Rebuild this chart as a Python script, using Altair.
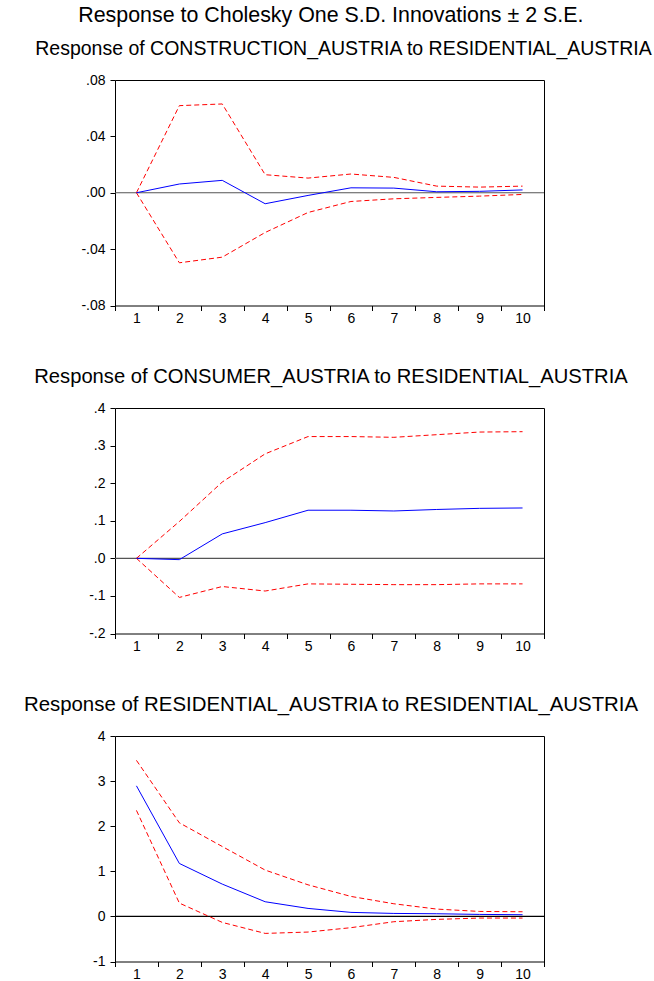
import altair as alt
import pandas as pd

steps = list(range(1, 11))

# Panel 1: Response of CONSTRUCTION_AUSTRIA to RESIDENTIAL_AUSTRIA
p1_resp = [0.0, 0.0062, 0.0088, -0.0078, -0.0019, 0.0035, 0.0033, 0.0007, 0.0010, 0.0020]
p1_upper = [0.0, 0.0618, 0.0630, 0.0128, 0.0104, 0.0133, 0.0109, 0.0047, 0.0040, 0.0047]
p1_lower = [0.0, -0.0497, -0.0457, -0.0282, -0.0140, -0.0062, -0.0043, -0.0033, -0.0024, -0.0012]
p1_ticks = [-0.08, -0.04, 0.0, 0.04, 0.08]

# Panel 2: Response of CONSUMER_AUSTRIA to RESIDENTIAL_AUSTRIA
p2_resp = [0.0, -0.0035, 0.065, 0.095, 0.128, 0.128, 0.126, 0.130, 0.133, 0.134]
p2_upper = [0.0, 0.098, 0.203, 0.278, 0.324, 0.324, 0.322, 0.329, 0.336, 0.337]
p2_lower = [0.0, -0.104, -0.075, -0.087, -0.068, -0.069, -0.070, -0.070, -0.068, -0.068]
p2_ticks = [-0.2, -0.1, 0.0, 0.1, 0.2, 0.3, 0.4]

# Panel 3: Response of RESIDENTIAL_AUSTRIA to RESIDENTIAL_AUSTRIA
p3_resp = [2.895, 1.174, 0.716, 0.325, 0.177, 0.089, 0.066, 0.059, 0.044, 0.037]
p3_upper = [3.46, 2.075, 1.55, 1.027, 0.70, 0.443, 0.28, 0.162, 0.11, 0.103]
p3_lower = [2.35, 0.295, -0.133, -0.377, -0.347, -0.25, -0.118, -0.066, -0.037, -0.037]
p3_ticks = [-1, 0, 1, 2, 3, 4]

FONT = "Liberation Sans"


def label_expr(fmt):
    pos = f"format(datum.value, '{fmt}')"
    neg = f"format(-datum.value, '{fmt}')"
    if fmt != "d":
        pos = f"replace({pos}, '0.', '.')"
        neg = f"replace({neg}, '0.', '.')"
    return f"datum.value < 0 ? '-' + {neg} : {pos}"


def panel(title, resp, upper, lower, ticks, fmt, zero_color, title_size, title_dx):
    df = pd.DataFrame({"step": steps, "resp": resp, "upper": upper, "lower": lower})
    zdf = pd.DataFrame({"z": [0.0]})
    xenc = alt.X(
        "step:O",
        bandPosition=0.5,
        scale=alt.Scale(type="band", paddingInner=0, paddingOuter=0),
        axis=alt.Axis(
            title=None, labelAngle=0, tickBand="extent", tickSize=5,
            labelPadding=1, labelFontSize=14, domain=False, grid=False,
        ),
    )
    yscale = alt.Scale(domain=[min(ticks), max(ticks)], nice=False, zero=False)
    yaxis = alt.Axis(
        title=None, values=ticks, labelExpr=label_expr(fmt), grid=False,
        domain=False, tickSize=5, labelPadding=5, labelFontSize=14,
    )
    zero = alt.Chart(zdf).mark_rule(color=zero_color, strokeWidth=1.2).encode(
        y=alt.Y("z:Q", scale=yscale, axis=yaxis)
    )
    base = alt.Chart(df)
    up = base.mark_line(color="#FF0000", strokeWidth=1, strokeDash=[5, 3]).encode(
        x=xenc, y=alt.Y("upper:Q", scale=yscale, axis=yaxis)
    )
    lo = base.mark_line(color="#FF0000", strokeWidth=1, strokeDash=[5, 3]).encode(
        x=xenc, y=alt.Y("lower:Q", scale=yscale, axis=yaxis)
    )
    mid = base.mark_line(color="#0000FF", strokeWidth=1).encode(
        x=xenc, y=alt.Y("resp:Q", scale=yscale, axis=yaxis)
    )
    return alt.layer(zero, up, lo, mid).properties(
        width=429,
        height=225.5,
        title=alt.TitleParams(
            title, fontSize=title_size, font=FONT, fontWeight="normal", anchor="middle",
            frame="group", offset=14, color="black", dx=title_dx,
        ),
    )


c1 = panel("Response of CONSTRUCTION_AUSTRIA to RESIDENTIAL_AUSTRIA", p1_resp, p1_upper, p1_lower, p1_ticks, ".2f", "#555555", 19.5, 14)
c2 = panel("Response of CONSUMER_AUSTRIA to RESIDENTIAL_AUSTRIA", p2_resp, p2_upper, p2_lower, p2_ticks, ".1f", "#555555", 20.2, 1.5)
c3 = panel("Response of RESIDENTIAL_AUSTRIA to RESIDENTIAL_AUSTRIA", p3_resp, p3_upper, p3_lower, p3_ticks, "d", "#000000", 20.4, 1.5)

chart = alt.vconcat(
    c1, c2, c3,
    spacing=102,
    bounds="flush",
    title=alt.TitleParams(
        "Response to Cholesky One S.D. Innovations ± 2 S.E.",
        fontSize=21.4, font=FONT, fontWeight="normal", anchor="middle",
        offset=12, color="black", dx=-7,
    ),
).configure_view(stroke="black", strokeWidth=1).configure_axis(
    labelFont=FONT, labelColor="black", tickColor="black", tickWidth=1, labelFontSize=14
).properties(background="white", padding={"left": 22, "top": 4, "right": 0, "bottom": 0})

chart.save("out.html", embed_options={"renderer": "svg", "actions": False})
